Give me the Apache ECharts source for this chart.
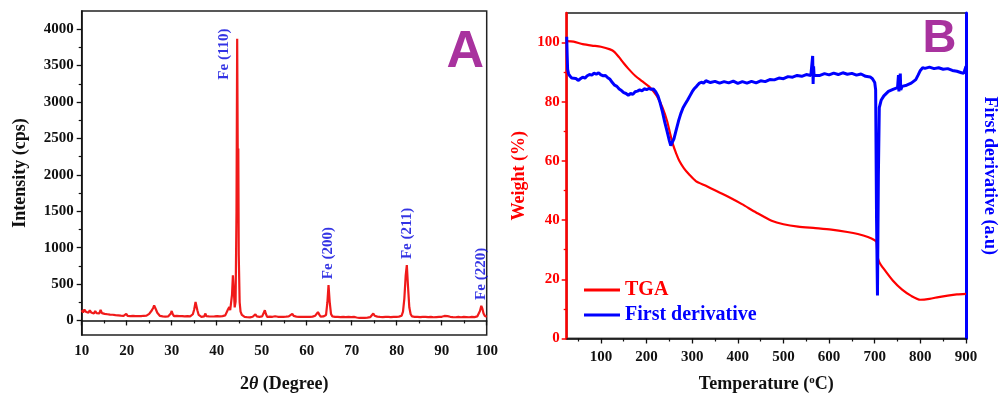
<!DOCTYPE html>
<html>
<head>
<meta charset="utf-8">
<script src="https://cdn.jsdelivr.net/npm/echarts@6/dist/echarts.min.js"></script>
<style>html,body{margin:0;padding:0;background:#fff}#c{width:1000px;height:398px}</style>
</head>
<body>
<div id="c"></div>
<script>
// ---------- Panel A : XRD ----------
const xrdTheta = [10,10.3,10.6,10.9,11.2,11.5,11.8,12.1,12.4,12.7,13,13.3,13.6,13.9,14.2,14.5,14.8,15.1,15.4,15.7,16,16.3,16.6,16.9,17.2,17.5,17.8,18.1,18.4,18.7,19,19.3,19.6,19.9,20.2,20.5,20.8,21.1,21.4,21.7,22,22.3,22.6,22.9,23.2,23.5,23.8,24.1,24.4,24.7,25,25.3,25.6,25.9,26.1,26.3,26.5,26.8,27.1,27.4,27.7,28,28.3,28.6,28.9,29.2,29.5,29.8,30,30.2,30.5,30.8,31.1,31.4,31.7,32,32.3,32.6,32.9,33.2,33.5,33.8,34.1,34.4,34.7,35,35.3,35.5,35.7,36,36.3,36.6,36.9,37.2,37.5,37.7,38,38.3,38.6,38.9,39.2,39.5,39.8,40.1,40.4,40.7,41,41.3,41.6,41.9,42.2,42.5,42.8,43,43.2,43.4,43.6,43.8,44,44.2,44.4,44.55,44.7,44.8,44.9,45.1,45.3,45.6,45.9,46.2,46.5,46.8,47.1,47.4,47.7,48,48.3,48.6,48.9,49.2,49.5,49.8,50.1,50.4,50.7,50.9,51.2,51.5,51.8,52.1,52.4,52.7,53,53.3,53.6,53.9,54.2,54.5,54.8,55.1,55.4,55.7,56,56.4,56.8,57.1,57.4,57.7,58,58.3,58.6,58.9,59.2,59.5,59.8,60.1,60.4,60.7,61,61.3,61.6,61.9,62.2,62.5,62.8,63.1,63.4,63.7,64,64.3,64.6,64.85,65.1,65.4,65.7,66,66.3,66.6,66.9,67.2,67.5,67.8,68.1,68.4,68.7,69,69.3,69.6,69.9,70.2,70.5,70.8,71.1,71.4,71.7,72,72.3,72.6,72.9,73.2,73.5,73.8,74.1,74.4,74.8,75.1,75.4,75.7,76,76.3,76.6,76.9,77.2,77.5,77.8,78.1,78.4,78.7,79,79.3,79.6,79.9,80.2,80.5,80.8,81.1,81.4,81.7,82,82.25,82.5,82.8,83.1,83.4,83.7,84,84.3,84.6,84.9,85.2,85.5,85.8,86.1,86.4,86.7,87,87.3,87.6,87.9,88.2,88.5,88.8,89.1,89.4,89.7,90,90.3,90.6,91,91.3,91.6,91.9,92.2,92.5,92.8,93.1,93.4,93.7,94,94.3,94.6,94.9,95.2,95.5,95.8,96.1,96.4,96.7,97,97.3,97.6,97.9,98.2,98.5,98.8,99,99.3,99.6,100];
const xrdIntensity = [140,110,150,120,135,105,140,110,125,95,130,100,120,95,145,100,110,90,105,85,100,80,95,78,90,72,88,70,82,66,80,64,78,90,62,76,60,74,62,76,60,72,58,74,60,70,64,78,66,82,90,110,140,175,205,190,150,105,80,62,70,55,66,52,64,55,70,95,130,90,60,48,62,50,58,45,60,48,56,44,58,50,55,60,85,150,255,230,140,75,55,48,58,55,95,60,45,56,44,54,42,55,45,58,44,56,46,60,52,70,95,150,185,140,160,350,620,420,180,260,1500,3870,2000,2360,900,250,120,75,55,48,56,44,52,42,55,50,75,85,55,42,50,40,55,80,140,95,50,42,52,38,50,40,58,42,50,38,48,36,50,40,52,42,55,65,90,62,45,52,38,48,36,50,38,48,36,50,40,48,38,52,45,65,90,115,80,52,45,55,50,75,250,485,260,90,55,44,50,38,48,36,46,38,50,36,46,35,48,38,46,34,48,56,40,46,34,48,36,44,34,50,38,48,45,60,95,65,45,52,38,48,36,46,38,50,36,48,38,46,36,50,40,48,38,52,48,65,120,300,620,760,480,180,85,55,44,50,38,48,36,46,38,50,40,48,36,46,34,48,36,44,34,46,36,48,38,50,45,62,85,60,42,50,36,46,34,44,36,48,38,44,36,48,38,46,36,44,38,50,40,46,44,55,75,130,200,170,95,60,50];
const peakNames = ['Fe (110)','Fe (200)','Fe (211)','Fe (220)'];
const peakTheta = [44.55, 64.85, 82.25, 98.8];
const peakIntensity = [3870, 485, 760, 200];
const xrdTickValues = [0,500,1000,1500,2000,2500,3000,3500,4000];
const xrdMinorTickValues = [250,750,1250,1750,2250,2750,3250,3750];

// ---------- Panel B : TGA / DTG ----------
const tgaTemp = [25,40,60,80,100,120,130,140,150,160,175,190,205,215,225,235,245,252,258,265,272,282,293,308,330,351,380,409,440,474,500,532,570,605,640,663,685,700,704,706,710,720,740,760,780,800,820,840,860,880,900];
const tgaWeight = [100.5,100.3,99.5,99,98.6,97.7,96.8,95,93,91.2,88.8,87,85.2,83.5,81.3,78,73.5,69,65.5,62.5,60,57.5,55.5,53.2,51.6,50,47.8,45.4,42.6,39.8,38.6,37.8,37.3,36.8,36,35.3,34.3,33.2,32.5,28,25.8,23.5,19.5,16.5,14.4,13.1,13.4,14,14.5,14.9,15.1];
const dtgTemp = [25,26,27,29,32,36,40,45,50,55,60,65,70,75,80,85,90,95,100,105,110,115,120,125,130,135,140,145,150,155,160,165,170,175,180,185,190,195,200,205,210,215,220,225,230,235,240,245,250,253,256,260,265,270,275,280,285,290,295,300,305,310,315,320,325,330,340,350,360,370,380,390,400,410,420,430,440,450,460,470,480,490,500,510,520,530,540,550,560,563,564,565,566,567,570,580,590,600,610,620,630,640,650,660,670,680,690,695,700,702,704,706,708,710,714,720,730,740,750,752,753,756,757,760,770,780,790,795,800,805,810,820,830,840,850,860,870,880,890,895,900];
const dtgValue = [102,96,91,89.5,88.7,88,87.4,87.9,87.2,87.8,88.3,88,88.8,89.2,89,89.7,89.3,89.8,89.1,88.8,88.9,88.1,87.6,86.5,85.6,85.2,84.3,83.8,83.1,82.8,82.2,82.8,82.5,83.4,83.6,84,83.7,84.4,84.1,84.5,84.2,84.3,83.4,82,79.5,76.5,73,70,66.8,65.2,65.8,67.5,70.5,73.5,76,78,79.3,80.6,82,83.4,84.5,85.3,86.2,86.6,86.3,87.1,86.5,86.9,86.3,86.8,86.4,87,86.2,86.8,86.3,86.9,86.4,87.1,86.8,87.5,87.4,88,87.8,88.5,88.3,88.9,88.6,89.2,88.9,89.3,95.5,86,92,89,89.4,88.9,89.5,89.1,89.7,89.2,89.8,89.3,89.6,89,89.4,88.6,88.4,87.8,86.5,84,40,14.5,55,78,80.5,82,83.5,84.2,84.8,89,83.5,89.5,84,85.2,85.6,86.3,87.5,89,90.6,91.5,91.3,91.7,91.2,91.5,91,91.2,90.6,90.3,89.8,89.6,92];
const tempTickValues = [100,200,300,400,500,600,700,800,900];
const tempMinorTickValues = [50,150,250,350,450,550,650,750,850];
const weightTickValues = [0,20,40,60,80,100];
const weightMinorTickValues = [10,30,50,70,90];

const zip = (a, b) => a.map((v, i) => [v, b[i]]);

const SERIF = 'Liberation Serif';
const lbl = (color, size) => ({ fontFamily: SERIF, fontWeight: 'bold', fontSize: size, color: color });
const plain = v => String(v);

const chart = echarts.init(document.getElementById('c'), null, { renderer: 'canvas' });
chart.setOption({
  animation: false,
  backgroundColor: '#fff',
  grid: [
    { left: 81.7, top: 11, right: 513.3, bottom: 59, show: true, borderColor: '#222', borderWidth: 1.5, containLabel: false },
    { left: 566.7, top: 13, right: 31, bottom: 58, show: true, borderColor: '#555', borderWidth: 2, containLabel: false }
  ],
  legend: {
    left: 579, top: 275, orient: 'vertical', itemGap: 5, itemWidth: 36, itemHeight: 3,
    icon: 'rect',
    data: [
      { name: 'TGA', textStyle: lbl('#ff0000', 20) },
      { name: 'First derivative', textStyle: lbl('#0000ff', 20) }
    ],
    textStyle: lbl('#000', 20)
  },
  xAxis: [
    { gridIndex: 0, type: 'value', position: 'bottom', min: 10, max: 100, interval: 10,
      axisLine: { lineStyle: { color: '#111', width: 1.5 } },
      axisTick: { length: 5, lineStyle: { color: '#111', width: 1.3 } },
      minorTick: { show: true, splitNumber: 2, length: 3, lineStyle: { color: '#111', width: 1.2 } },
      axisLabel: Object.assign({ margin: 9, formatter: plain }, lbl('#111', 15)),
      splitLine: { show: false },
      name: '{n|2}{t|θ}{n| (Degree)}', nameLocation: 'middle', nameGap: 40,
      nameTextStyle: { rich: { n: lbl('#111', 18), t: Object.assign({ fontStyle: 'italic' }, lbl('#111', 18)) } }
    },
    { gridIndex: 1, type: 'value', position: 'bottom', min: 25, max: 900,
      axisLine: { lineStyle: { color: '#111', width: 1.5 } },
      axisTick: { length: 5, customValues: tempTickValues, lineStyle: { color: '#111', width: 1.3 } },
      axisLabel: Object.assign({ margin: 11, customValues: tempTickValues, formatter: plain }, lbl('#111', 15)),
      splitLine: { show: false },
      name: '{n|Temperature (}{s|o}{n|C)}', nameLocation: 'middle', nameGap: 36,
      nameTextStyle: { rich: { n: lbl('#111', 18), s: Object.assign({ verticalAlign: 'top', padding: [0, 0, 8, 0] }, lbl('#111', 11)) } }
    },
    { gridIndex: 1, type: 'value', position: 'bottom', min: 25, max: 900,
      axisLine: { show: false },
      axisTick: { length: 3, customValues: tempMinorTickValues, lineStyle: { color: '#111', width: 1.2 } },
      axisLabel: { show: false }, splitLine: { show: false }
    }
  ],
  yAxis: [
    { gridIndex: 0, type: 'value', position: 'left', min: -200, max: 4250,
      axisLine: { show: true, lineStyle: { color: '#111', width: 1.5 } },
      axisTick: { show: true, length: 5, customValues: xrdTickValues, lineStyle: { color: '#111', width: 1.3 } },
      axisLabel: Object.assign({ margin: 8, customValues: xrdTickValues, formatter: plain }, lbl('#111', 15)),
      splitLine: { show: false },
      name: 'Intensity (cps)', nameLocation: 'middle', nameGap: 52, nameRotate: 90,
      nameTextStyle: lbl('#111', 18)
    },
    { gridIndex: 0, type: 'value', position: 'left', min: -200, max: 4250,
      axisLine: { show: false },
      axisTick: { show: true, length: 3, customValues: xrdMinorTickValues, lineStyle: { color: '#111', width: 1.2 } },
      axisLabel: { show: false }, splitLine: { show: false }
    },
    { gridIndex: 1, type: 'value', position: 'left', min: 0, max: 110,
      axisLine: { show: true, lineStyle: { color: '#ff0000', width: 2.5 } },
      axisTick: { show: true, length: 5, customValues: weightTickValues, lineStyle: { color: '#ff0000', width: 1.5 } },
      axisLabel: Object.assign({ margin: 7, customValues: weightTickValues, formatter: plain }, lbl('#ff0000', 15)),
      splitLine: { show: false },
      name: 'Weight (%)', nameLocation: 'middle', nameGap: 38, nameRotate: 90,
      nameTextStyle: lbl('#ff0000', 18)
    },
    { gridIndex: 1, type: 'value', position: 'left', min: 0, max: 110,
      axisLine: { show: false },
      axisTick: { show: true, length: 3, customValues: weightMinorTickValues, lineStyle: { color: '#ff0000', width: 1.3 } },
      axisLabel: { show: false }, splitLine: { show: false }
    },
    { gridIndex: 1, type: 'value', min: 0, max: 110, position: 'right',
      axisLine: { show: true, lineStyle: { color: '#0000ff', width: 3 } },
      axisTick: { show: false }, axisLabel: { show: false }, splitLine: { show: false },
      name: 'First derivative (a.u)', nameLocation: 'middle', nameGap: 15, nameRotate: -90,
      nameTextStyle: lbl('#0000ff', 18)
    }
  ],
  series: [
    { name: 'XRD', type: 'line', xAxisIndex: 0, yAxisIndex: 0, data: zip(xrdTheta, xrdIntensity),
      showSymbol: false, lineStyle: { color: '#f01a1a', width: 2.2 }, itemStyle: { color: '#f01a1a' }, z: 3 },
    { name: 'peaks', type: 'scatter', xAxisIndex: 0, yAxisIndex: 0, symbolSize: 0, silent: true,
      data: peakTheta.map((t, i) => ({
        value: [t, peakIntensity[i]], name: peakNames[i],
        label: Object.assign({ position: i === 0 ? [-13, 41] : [0, -6] }, lbl('#0000dd', 15))
      })),
      label: Object.assign({ show: true, formatter: '{b}', rotate: 90, align: 'left', verticalAlign: 'middle' }, lbl('#0000dd', 15)),
      z: 5 },
    { name: 'TGA', type: 'line', xAxisIndex: 1, yAxisIndex: 2, data: zip(tgaTemp, tgaWeight),
      showSymbol: false, smooth: 0.25, lineStyle: { color: '#ff0000', width: 2.2 }, itemStyle: { color: '#ff0000' }, z: 3 },
    { name: 'First derivative', type: 'line', xAxisIndex: 1, yAxisIndex: 4, data: zip(dtgTemp, dtgValue),
      showSymbol: false, lineStyle: { color: '#0000ff', width: 3 }, itemStyle: { color: '#0000ff' }, z: 4 }
  ],
  graphic: [
    { type: 'text', left: 446, top: 26, z: 10,
      style: { text: 'A', fontFamily: 'Liberation Sans', fontWeight: 'bold', fontSize: 52, fill: '#a8329e',
        stroke: '#ffffff', lineWidth: 1, shadowColor: '#f08ae6', shadowOffsetX: 2.5, shadowOffsetY: 2.5, shadowBlur: 0 } },
    { type: 'text', left: 922, top: 15, z: 10,
      style: { text: 'B', fontFamily: 'Liberation Sans', fontWeight: 'bold', fontSize: 47, fill: '#a8329e',
        stroke: '#ffffff', lineWidth: 1, shadowColor: '#f08ae6', shadowOffsetX: 2.5, shadowOffsetY: 2.5, shadowBlur: 0 } }
  ]
});
</script>
</body>
</html>
